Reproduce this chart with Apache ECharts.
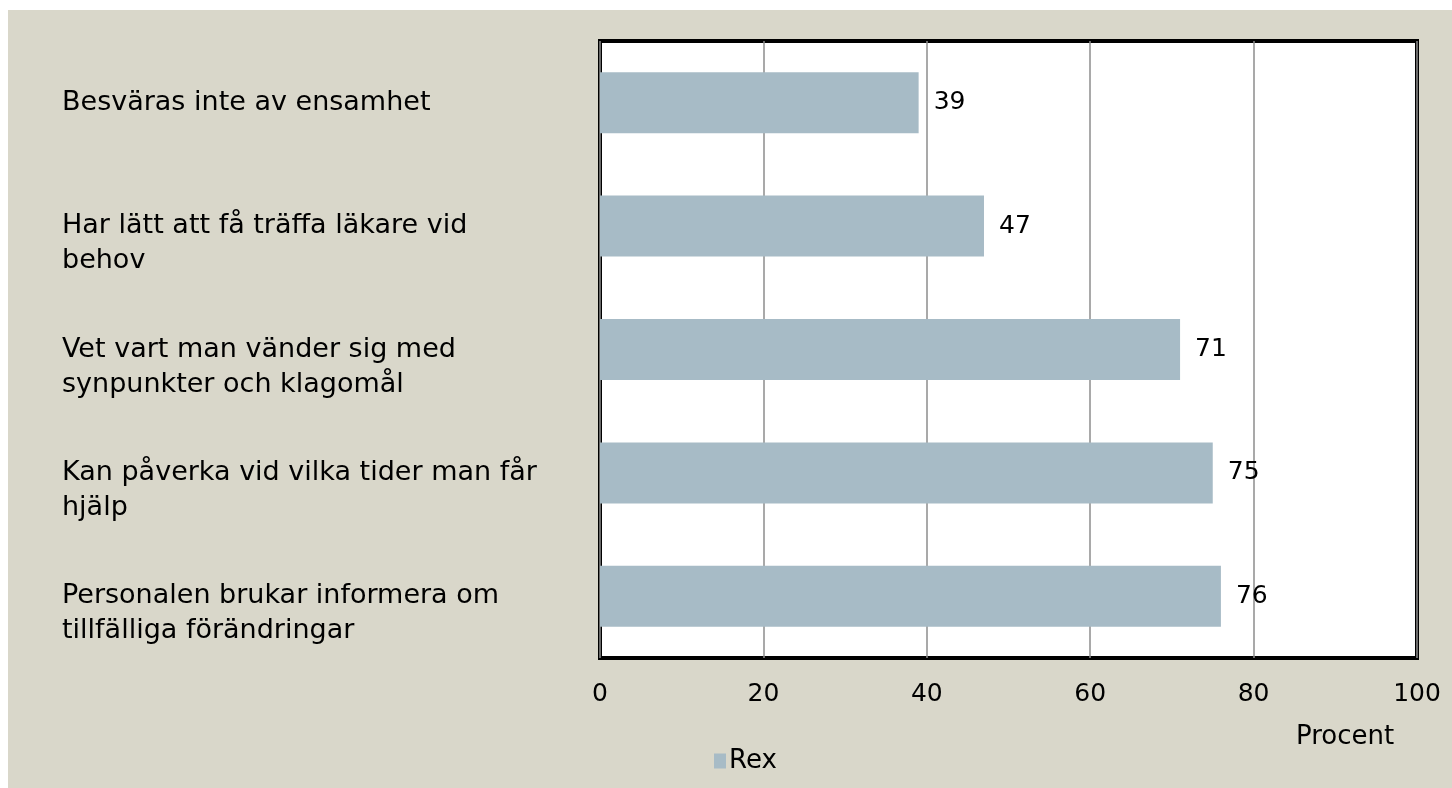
<!DOCTYPE html>
<html>
<head>
<meta charset="utf-8">
<script src="https://cdn.jsdelivr.net/npm/echarts@6/dist/echarts.min.js"></script>
<style>
html,body{margin:0;padding:0;background:#fff;}
#chart{position:absolute;left:8px;top:10px;width:1444px;height:778px;}
</style>
</head>
<body>
<div id="chart"></div>
<script>
const categories = [
  "Besväras inte av ensamhet",
  "Har lätt att få träffa läkare vid\nbehov",
  "Vet vart man vänder sig med\nsynpunkter och klagomål",
  "Kan påverka vid vilka tider man får\nhjälp",
  "Personalen brukar informera om\ntillfälliga förändringar"
];
const values = [39, 47, 71, 75, 76];
const seriesName = "Rex";
const axisTitle = "Procent";
const xTicks = [0, 20, 40, 60, 80, 100];

const FONT = "DejaVu Sans";
const chart = echarts.init(document.getElementById('chart'));
chart.setOption({
  backgroundColor: '#d9d7ca',
  animation: false,
  textStyle: { fontFamily: FONT, color: '#000' },
  grid: {
    left: 592, top: 31, width: 817, height: 617,
    show: true, backgroundColor: '#fff', borderColor: '#000', borderWidth: 4,
    containLabel: false
  },
  legend: {
    data: [seriesName],
    left: 701, top: 733,
    itemWidth: 12, itemHeight: 15, itemGap: 4,
    icon: 'rect',
    textStyle: { fontFamily: FONT, fontSize: 26, color: '#000', padding: [0,0,0,-2] }
  },
  graphic: [{
    type: 'text', left: 1288, top: 714,
    style: { text: axisTitle, font: '26px "' + FONT + '"', fill: '#000' }
  }],
  xAxis: {
    type: 'value', min: xTicks[0], max: xTicks[xTicks.length-1], interval: 20,
    axisLine: { show: false }, axisTick: { show: false },
    splitLine: { show: true, lineStyle: { color: '#8c8c8c', width: 1.5 } },
    axisLabel: { fontFamily: FONT, fontSize: 25, color: '#000', margin: 24 }
  },
  yAxis: {
    type: 'category', data: categories, inverse: true,
    axisLine: { show: false }, axisTick: { show: false },
    axisLabel: {
      fontFamily: FONT, fontSize: 27, color: '#000', align: 'left',
      verticalAlign: 'middle',
      margin: 538, lineHeight: 35, padding: [8, 0, 0, 0],
      formatter: function (v) { return v.indexOf('\n') >= 0 ? '\n' + v : v; }
    }
  },
  series: [{
    name: seriesName, type: 'bar', data: values, barWidth: 61,
    itemStyle: { color: '#a7bbc6' },
    label: { show: true, position: 'right', distance: 15, fontFamily: FONT, fontSize: 25, color: '#000' }
  }]
});
</script>
</body>
</html>
